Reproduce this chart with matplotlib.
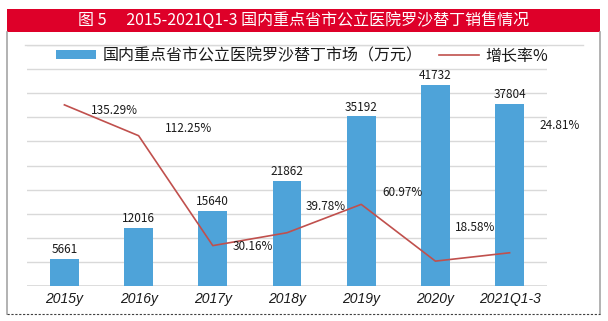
import matplotlib
matplotlib.use("Agg")
import matplotlib.pyplot as plt
from matplotlib.patches import Rectangle, Patch
from matplotlib.lines import Line2D

plt.rcParams['font.family'] = ['Noto Sans CJK SC', 'DejaVu Sans']

categories = ['2015y', '2016y', '2017y', '2018y', '2019y', '2020y', '2021Q1-3']
market = [5661, 12016, 15640, 21862, 35192, 41732, 37804]
growth = [135.29, 112.25, 30.16, 39.78, 60.97, 18.58, 24.81]
growth_labels = ['135.29%', '112.25%', '30.16%', '39.78%', '60.97%', '18.58%', '24.81%']
title = '图 5\u3000 2015-2021Q1-3 国内重点省市公立医院罗沙替丁销售情况'
bar_name = '国内重点省市公立医院罗沙替丁市场（万元）'
line_name = '增长率%'

# label offsets in pixels (hand placed in the original)
label_offsets = [(50, -6), (50, 7), (40, -1), (39, 26), (41, 12), (40, 34), (50, 127)]

W, H = 608, 321
fig = plt.figure(figsize=(W / 100, H / 100), dpi=100)

def fx(px):
    return px / W

def fy(py):
    return 1 - py / H

# red title band and frame
fig.add_artist(Rectangle((fx(7), fy(32)), fx(593), 23 / H, transform=fig.transFigure,
                         facecolor='#DE0029', edgecolor='none'))
fig.text(fx(303.5), fy(20.5), title, color='white', fontsize=11.5, ha='center', va='center')
fig.add_artist(Line2D([fx(7), fx(7)], [fy(32), fy(314)], color='#A6A6A6', lw=1.2))
fig.add_artist(Line2D([fx(600), fx(600)], [fy(32), fy(314)], color='#A6A6A6', lw=1.2))
fig.add_artist(Line2D([fx(7), fx(600)], [fy(314), fy(314)], color='#404040', lw=0.8,
                      linestyle=(0, (2, 1.5))))
fig.add_artist(Line2D([fx(25), fx(583)], [fy(45), fy(45)], color='#D9D9D9', lw=1))

ax = fig.add_axes([fx(27.3), fy(286), fx(546.7 - 27.3), (286 - 45) / H])
x = list(range(len(categories)))
bars = ax.bar(x, market, width=0.39, color='#4EA3D9', zorder=2)
ax.bar_label(bars, labels=[str(v) for v in market], padding=2, fontsize=8.5, color='#1a1a1a')
ax.set_xlim(-0.5, 6.5)
ax.set_ylim(0, 50000)
ax.set_yticks(range(0, 50001, 5000))
ax.yaxis.grid(True, color='#D9D9D9', lw=1, zorder=0)
ax.set_xticks(x)
ax.set_xticklabels(categories, fontfamily='Liberation Sans', fontstyle='italic', fontsize=10,
                   color='#1a1a1a')
for s in ax.spines.values():
    s.set_visible(False)
ax.axhline(0, color='#D9D9D9', lw=1.2, zorder=1)

ax2 = ax.twinx()
ax2.plot(x, growth, color='#C0504D', lw=1.2, zorder=3)
ax2.set_ylim(0, 180)
ax2.axis('off')
for i, (v, lab) in enumerate(zip(growth, growth_labels)):
    ax2.annotate(lab, xy=(i, v), xytext=label_offsets[i], textcoords='offset pixels',
                 ha='center', va='center', fontsize=8.5, color='#1a1a1a')

# twinx turns the left ticks back on
ax.tick_params(axis='y', left=False, right=False, labelleft=False)
ax.tick_params(axis='x', length=0, pad=4)

handles = [Patch(facecolor='#4EA3D9', edgecolor='none'),
           Line2D([], [], color='#C0504D', lw=1.2)]
fig.legend(handles, [bar_name, line_name], loc='center', bbox_to_anchor=(fx(302), fy(56)),
           ncol=2, frameon=False, fontsize=11.5, handlelength=2.5, handleheight=0.5,
           handletextpad=0.4, columnspacing=1.0, borderpad=0, labelcolor='#1a1a1a')

fig.savefig('out.png', dpi=100)
